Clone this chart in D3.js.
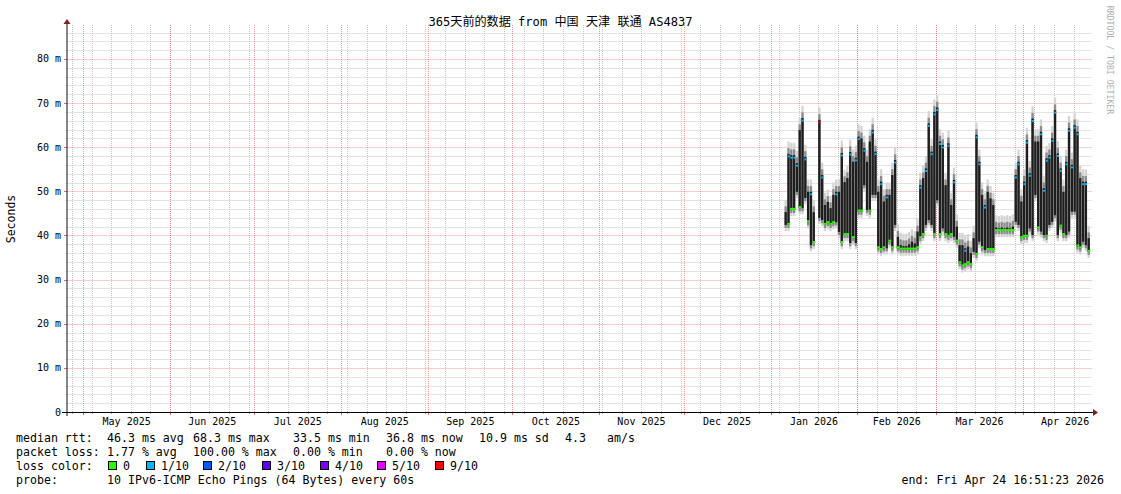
<!DOCTYPE html>
<html><head><meta charset="utf-8">
<script src="https://cdn.jsdelivr.net/npm/d3@7"></script>
<style>
body{margin:0;background:#fff}
svg{display:block}
text{font-family:"DejaVu Sans Mono","Noto Sans CJK SC",monospace}
</style>
</head><body>
<svg id="c" width="1121" height="494"></svg>
<script>
// ---------------- data ----------------
const title = "365天前的数据 from 中国 天津 联通 AS4837";
const yAxisTitle = "Seconds";
const rangeStart = new Date(2025, 3, 24, 16, 51, 23);
const rangeEnd = new Date(2026, 3, 24, 16, 51, 23);
const firstDay = new Date(2026, 0, 6);

// daily high / low of the median rtt (ms), Jan 6 .. Apr 24 2026 (null = no data)
const dailyHigh = [
  45.3,58.5,58.2,58.2,56.4,63.9,66.6,57.8,49.9,49.9,45.3,null,66.2,53.7,46.9,47.6,46.2,49.2,49.9,49.9,58.7,52.1,53.0,58.9,56.7,57.6,
  62.4,62.0,59.8,56.7,61.3,63.9,59.0,49.9,52.2,47.7,49.2,49.2,53.7,57.1,39.7,37.8,37.6,37.6,38.0,38.6,38.2,40.9,51.4,53.0,55.2,65.4,59.0,68.0,
  69.0,61.3,60.5,51.4,60.9,46.9,52.6,42.0,37.8,37.8,37.1,37.5,36.0,39.4,62.8,56.7,49.2,46.9,49.9,48.4,46.9,41.8,41.6,41.8,41.6,41.8,41.6,42.0,53.7,56.7,47.7,
  52.2,61.6,54.1,66.5,61.3,61.3,63.5,50.7,57.5,58.2,62.0,68.4,58.6,55.2,49.9,56.7,64.3,56.0,65.0,63.5,53.0,52.2,52.2,39.4
];
const dailyLow = [
  42.4,42.4,45.8,45.8,49.9,46.2,46.2,48.5,43.0,37.8,38.3,null,44.0,43.5,42.4,42.8,42.4,42.8,43.0,40.8,38.3,40.1,40.1,38.3,39.4,38.3,
  45.4,45.4,51.4,45.8,45.4,49.2,49.2,37.1,36.7,37.1,37.1,38.6,37.1,42.4,37.1,36.8,36.8,36.8,36.8,36.8,36.8,37.1,39.4,40.1,42.4,43.5,42.4,40.1,
  48.0,40.1,41.6,40.1,39.7,40.1,39.7,38.6,33.7,33.0,33.3,33.7,33.3,36.3,35.6,38.6,37.1,36.7,36.7,36.7,36.7,41.0,41.0,41.0,41.0,41.0,41.0,41.0,43.1,42.4,39.4,
  39.7,39.7,41.6,40.1,49.2,41.6,40.9,40.1,39.7,42.4,43.1,44.6,40.1,42.0,40.1,40.1,40.9,45.4,45.4,37.5,37.1,38.6,37.8,36.3
];
// packet loss (out of 10) at the daily peak / trough of the median line (null = no coloured mark visible)
const lossAtHigh = [
  null,1,1,1,1,null,1,1,null,1,null,null,9,1,null,null,null,null,1,null,1,null,null,1,null,1,
  1,null,1,null,null,1,1,null,1,null,1,null,null,1,null,null,null,null,null,null,null,null,1,null,1,1,1,1,
  1,1,1,null,1,null,1,null,null,null,1,null,null,null,1,1,null,1,null,null,null,null,null,null,null,null,null,null,1,1,null,
  1,1,1,1,null,null,1,1,1,1,1,1,1,1,null,1,1,1,1,1,null,1,1,null
];
const lossAtLow = [
  null,0,0,0,null,0,null,null,0,null,0,null,null,null,0,0,0,0,null,null,0,0,0,null,0,null,
  0,0,null,null,0,null,null,0,0,0,null,0,0,null,0,0,0,0,0,0,0,0,0,0,null,null,null,0,
  null,0,null,0,0,0,null,0,0,0,0,0,0,null,0,null,0,null,0,0,0,0,0,0,0,0,0,0,null,null,0,
  0,0,null,null,null,0,null,null,0,null,null,null,null,0,0,null,null,null,null,0,0,null,null,0
];

const yTickValues = [0,10,20,30,40,50,60,70,80];
const yTickLabels = ["0","10 m","20 m","30 m","40 m","50 m","60 m","70 m","80 m"];
const yMax = 87.7;

const lossLevels = [0,1,2,3,4,5,9];
const lossLabels = ["0","1/10","2/10","3/10","4/10","5/10","9/10"];
const lossColors = ["#26ff00","#00b8ff","#0059ff","#5e00ff","#7e00ff","#dd00ff","#ff0000"];

const legendRtt = ["median rtt:","46.3 ms avg","68.3 ms max","33.5 ms min","36.8 ms now","10.9 ms sd","4.3","am/s"];
const legendLoss = ["packet loss:","1.77 % avg","100.00 % max","0.00 % min","0.00 % now"];
const legendLossTitle = "loss color:";
const legendProbe = ["probe:","10 IPv6-ICMP Echo Pings (64 Bytes) every 60s"];
const endLabel = "end: Fri Apr 24 16:51:23 2026";
const watermark = "RRDTOOL / TOBI OETIKER";

// ---------------- layout ----------------
const svg = d3.select("#c");
const X0 = 65.5, X1 = 1089.5, Y0 = 412, Y1 = 25;
const x = d3.scaleTime().domain([rangeStart, rangeEnd]).range([X0, X1]);
const y = d3.scaleLinear().domain([0, yMax]).range([Y0, Y1]);
const lossColor = d3.scaleOrdinal().domain(lossLevels).range(lossColors);
const crisp = v => Math.round(v) + 0.5;
const GRID = "#c8c8c8", MGRID = "rgba(224,79,79,0.55)";

const gridG = svg.append("g");
const minorY = d3.range(2, yMax, 2).filter(v => v % 10 !== 0);
const weeks = d3.timeWeek.range(rangeStart, rangeEnd);
const months = d3.timeMonth.range(d3.timeMonth.ceil(rangeStart), rangeEnd);

gridG.selectAll("line.hmin").data(minorY).join("line").attr("class", "hmin")
  .attr("x1", X0 + 1).attr("x2", X1 + 3)
  .attr("y1", d => crisp(y(d))).attr("y2", d => crisp(y(d)))
  .attr("stroke", GRID).attr("stroke-dasharray", "1,1");
gridG.selectAll("line.vmin").data(weeks).join("line").attr("class", "vmin")
  .attr("x1", d => crisp(x(d))).attr("x2", d => crisp(x(d)))
  .attr("y1", Y1).attr("y2", Y0)
  .attr("stroke", GRID).attr("stroke-dasharray", "1,1");
gridG.selectAll("line.hmaj").data(yTickValues.slice(1)).join("line").attr("class", "hmaj")
  .attr("x1", X0 + 1).attr("x2", X1 + 3)
  .attr("y1", d => crisp(y(d))).attr("y2", d => crisp(y(d)))
  .attr("stroke", MGRID).attr("stroke-dasharray", "1,1");
gridG.selectAll("line.vmaj").data(months).join("line").attr("class", "vmaj")
  .attr("x1", d => crisp(x(d))).attr("x2", d => crisp(x(d)))
  .attr("y1", Y1).attr("y2", Y0)
  .attr("stroke", MGRID).attr("stroke-dasharray", "1,1");

// ---------------- data marks ----------------
const days = dailyHigh.map((h, i) => ({
  date: d3.timeDay.offset(firstDay, i),
  hi: h, lo: dailyLow[i], lh: lossAtHigh[i], ll: lossAtLow[i]
})).filter(d => d.hi != null);
const dayX = d => x(d.date);
const dayW = d => x(d3.timeDay.offset(d.date, 1)) - x(d.date) - 0.5;

const dataG = svg.append("g");
// smoke: light fringe, darker fringe, then the median band
dataG.selectAll("rect.s1").data(days).join("rect").attr("class", "s1")
  .attr("x", dayX).attr("width", dayW)
  .attr("y", d => y(d.hi + 2.8)).attr("height", d => y(d.lo - 1.4) - y(d.hi + 2.8))
  .attr("fill", "#d4d4d4");
dataG.selectAll("rect.s2").data(days).join("rect").attr("class", "s2")
  .attr("x", dayX).attr("width", dayW)
  .attr("y", d => y(d.hi + 1.3)).attr("height", d => y(d.lo - 0.7) - y(d.hi + 1.3))
  .attr("fill", "#8c8c8c");
dataG.selectAll("rect.m").data(days).join("rect").attr("class", "m")
  .attr("x", dayX).attr("width", dayW)
  .attr("y", d => y(d.hi)).attr("height", d => Math.max(1, y(d.lo) - y(d.hi)))
  .attr("fill", "#1e1e1e");
// loss colour marks on the median line
dataG.selectAll("rect.lh").data(days.filter(d => d.lh != null)).join("rect").attr("class", "lh")
  .attr("x", d => dayX(d) + 0.3).attr("width", 2)
  .attr("y", d => y(d.hi) + 1.5).attr("height", 2)
  .attr("fill", d => lossColor(d.lh));
dataG.selectAll("rect.ll").data(days.filter(d => d.ll != null)).join("rect").attr("class", "ll")
  .attr("x", dayX).attr("width", d => dayW(d) + 0.5)
  .attr("y", d => y(d.lo) - 2).attr("height", 2)
  .attr("fill", d => lossColor(d.ll));

// ---------------- axes ----------------
const axG = svg.append("g");
// tick stubs: weekly minor, monthly major (below the axis and above the plot)
axG.selectAll("line.xtmin").data(weeks).join("line").attr("class", "xtmin")
  .attr("x1", d => crisp(x(d))).attr("x2", d => crisp(x(d)))
  .attr("y1", Y0).attr("y2", Y0 + 2).attr("stroke", "#aaa");
axG.selectAll("line.xtmaj").data(months).join("line").attr("class", "xtmaj")
  .attr("x1", d => crisp(x(d))).attr("x2", d => crisp(x(d)))
  .attr("y1", Y0).attr("y2", Y0 + 3).attr("stroke", "#e07070");
axG.selectAll("line.ytmaj").data(yTickValues.slice(1)).join("line").attr("class", "ytmaj")
  .attr("x1", 64).attr("x2", 67)
  .attr("y1", d => crisp(y(d))).attr("y2", d => crisp(y(d))).attr("stroke", "#e07070");
// x axis
axG.append("line").attr("x1", 62).attr("x2", 1094).attr("y1", Y0 + 0.5).attr("y2", Y0 + 0.5)
  .attr("stroke", "#000");
axG.append("path").attr("d", `M1093,${Y0 - 3}L1098,${Y0 + 0.5}L1093,${Y0 + 4}Z`).attr("fill", "#7f1f1f");
// y axis
axG.append("line").attr("x1", 67).attr("x2", 67).attr("y1", Y0 + 4).attr("y2", Y1 - 1)
  .attr("stroke", "#111");
axG.append("path").attr("d", `M63.5,${Y1 - 1}L67,${Y1 - 6}L70.5,${Y1 - 1}Z`).attr("fill", "#7f1f1f");

// month labels centred in each month
const fmtMonth = d3.timeFormat("%b %Y");
axG.selectAll("text.xl").data(months).join("text").attr("class", "xl")
  .attr("x", d => (x(d) + x(d3.timeMonth.offset(d, 1))) / 2)
  .attr("y", 425).attr("text-anchor", "middle")
  .attr("font-size", "10px").attr("fill", "#000")
  .text(d => fmtMonth(d));

// y labels
axG.selectAll("text.yl").data(yTickValues).join("text").attr("class", "yl")
  .attr("x", 61).attr("y", d => y(d) + 3.5).attr("text-anchor", "end")
  .attr("font-size", "10px").attr("fill", "#000")
  .text((d, i) => yTickLabels[i]);

// titles
svg.append("text").attr("x", 560.5).attr("y", 26).attr("text-anchor", "middle")
  .attr("font-size", "12.1px").attr("fill", "#000").text(title);
svg.append("text").attr("transform", "translate(15,219) rotate(-90)")
  .attr("text-anchor", "middle").attr("font-size", "11.5px").attr("fill", "#000").text(yAxisTitle);
svg.append("text").attr("transform", "translate(1107,60) rotate(90)")
  .attr("text-anchor", "middle").attr("font-size", "8.2px").attr("fill", "#b0b0b0").text(watermark);

// ---------------- legend ----------------
const colX = [16, 107, 193, 293, 386, 479, 565, 607];
const legG = svg.append("g").attr("font-size", "11.6px").attr("fill", "#000");
legG.selectAll("text.l1").data(legendRtt).join("text").attr("class", "l1")
  .attr("x", (d, i) => colX[i]).attr("y", 442).text(d => d);
legG.selectAll("text.l2").data(legendLoss).join("text").attr("class", "l2")
  .attr("x", (d, i) => colX[i]).attr("y", 456).text(d => d);
legG.append("text").attr("x", 16).attr("y", 470).text(legendLossTitle);
const boxX = [108, 146, 203, 262, 320, 377, 435];
legG.selectAll("rect.lb").data(lossColors).join("rect").attr("class", "lb")
  .attr("x", (d, i) => boxX[i] + 0.5).attr("y", 461.5).attr("width", 8).attr("height", 8)
  .attr("fill", d => d).attr("stroke", "#000");
legG.selectAll("text.lbl").data(lossLabels).join("text").attr("class", "lbl")
  .attr("x", (d, i) => boxX[i] + 15).attr("y", 470).text(d => d);
legG.selectAll("text.l4").data(legendProbe).join("text").attr("class", "l4")
  .attr("x", (d, i) => colX[i]).attr("y", 484).text(d => d);
legG.append("text").attr("x", 1104).attr("y", 484).attr("text-anchor", "end").text(endLabel);
</script>
</body></html>
